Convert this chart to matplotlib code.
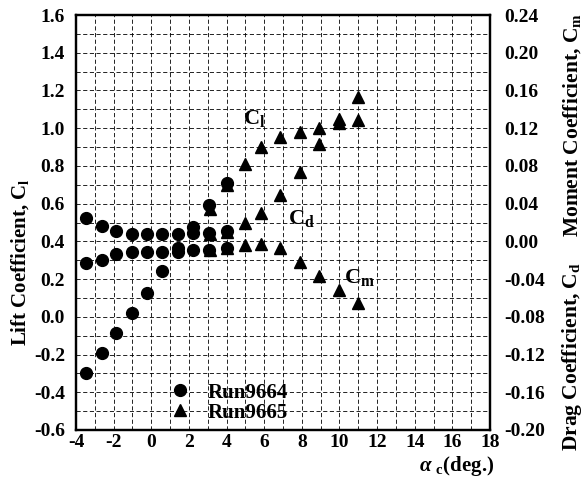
import matplotlib
matplotlib.use("Agg")
import matplotlib.pyplot as plt
import numpy as np

plt.rcParams['font.family'] = ['Liberation Serif', 'DejaVu Serif']
plt.rcParams['font.weight'] = 'bold'
plt.rcParams['mathtext.fontset'] = 'custom'
plt.rcParams['mathtext.rm'] = 'Liberation Serif:bold'
plt.rcParams['mathtext.it'] = 'Liberation Serif:italic:bold'
plt.rcParams['mathtext.bf'] = 'Liberation Serif:bold'

# Run9664 (circles)
alpha_9664 = [-3.45, -2.6, -1.85, -1.05, -0.25, 0.55, 1.4, 2.2, 3.05, 4.0]
cl_9664 = [-0.297, -0.19, -0.085, 0.018, 0.128, 0.244, 0.365, 0.475, 0.593, 0.708]
cd_9664 = [0.0248, 0.0162, 0.0112, 0.0078, 0.0074, 0.0078, 0.0078, 0.009, 0.009, 0.011]
cm_9664 = [-0.0234, -0.0198, -0.0134, -0.011, -0.011, -0.011, -0.011, -0.0092, -0.0092, -0.0074]

# Run9665 (triangles)
alpha_9665 = [3.1, 4.0, 5.0, 5.85, 6.85, 7.9, 8.9, 10.0, 11.0]
cl_9665 = [0.57, 0.70, 0.81, 0.90, 0.955, 0.98, 1.00, 1.03, 1.045]
cd_9665 = [0.008, 0.010, 0.019, 0.030, 0.049, 0.074, 0.103, 0.130, 0.153]
cm_9665 = [-0.0092, -0.007, -0.004, -0.003, -0.0074, -0.0216, -0.0364, -0.0516, -0.065]

xticks = np.arange(-4, 19, 2)
yticks_left = np.arange(-0.6, 1.61, 0.2)
yticks_right = np.arange(-0.20, 0.241, 0.04)

W, H = 586, 479
fig = plt.figure(figsize=(W / 100, H / 100), dpi=100)
ax = fig.add_axes([76 / W, 1 - 430 / H, 414 / W, 415 / H])
ax2 = ax.twinx()

ax.set_xlim(-4, 18)
ax.set_ylim(-0.6, 1.6)
ax2.set_ylim(-0.20, 0.24)

ax.set_xticks(xticks)
ax.set_xticklabels([f"{v:d}" for v in xticks])
ax.set_yticks(yticks_left)
ax.set_yticklabels([f"{v:.1f}" for v in yticks_left])
ax2.set_yticks(yticks_right)
ax2.set_yticklabels([f"{v:.2f}" for v in yticks_right])

ax.set_xticks(np.arange(-4, 18.5, 1), minor=True)
ax.set_yticks(np.arange(-0.6, 1.65, 0.1), minor=True)
ax.grid(which='both', color='black', linestyle=(0, (5, 3)), linewidth=0.6)
ax.tick_params(which='both', length=0, labelsize=14)
ax.tick_params(axis='y', pad=8)
ax.tick_params(axis='x', pad=3)
ax2.tick_params(which='both', length=0, labelsize=14, pad=10)
for a in (ax, ax2):
    for s in a.spines.values():
        s.set_linewidth(1.6)

ms_c = 8.5
ms_t = 8.5
h1, = ax.plot(alpha_9664, cl_9664, 'o', color='black', ms=ms_c, ls='none', label='Run9664')
ax2.plot(alpha_9664, cd_9664, 'o', color='black', ms=ms_c, ls='none')
ax2.plot(alpha_9664, cm_9664, 'o', color='black', ms=ms_c, ls='none')
h2, = ax.plot(alpha_9665, cl_9665, '^', color='black', ms=ms_t, ls='none', label='Run9665')
ax2.plot(alpha_9665, cd_9665, '^', color='black', ms=ms_t, ls='none')
ax2.plot(alpha_9665, cm_9665, '^', color='black', ms=ms_t, ls='none')

ax.text(5.46, 1.05, r"C$_\mathrm{l}$", fontsize=16, ha='center', va='center')
ax.text(7.96, 0.52, r"C$_\mathrm{d}$", fontsize=16, ha='center', va='center')
ax.text(11.04, 0.21, r"C$_\mathrm{m}$", fontsize=16, ha='center', va='center')

leg = ax2.legend(handles=[h1, h2], loc='center left', bbox_to_anchor=(0.226, 0.066),
                 frameon=False, fontsize=15, handlelength=1.0, handletextpad=0.85,
                 labelspacing=0.0, borderpad=0, borderaxespad=0)

fig.text(20 / W, 1 - 262 / H, r"Lift Coefficient, C$_\mathrm{l}$", rotation=90,
         ha='center', va='center', fontsize=15)
fig.text(572 / W, 1 - 125 / H, r"Moment Coefficient, C$_\mathrm{m}$", rotation=90,
         ha='center', va='center', fontsize=15.5)
fig.text(572 / W, 1 - 357 / H, r"Drag Coefficient, C$_\mathrm{d}$", rotation=90,
         ha='center', va='center', fontsize=15.5)
fig.text(457 / W, 1 - 466 / H, r"$\alpha$ $_\mathrm{c}$(deg.)", ha='center', va='center', fontsize=15)

fig.savefig("out.png", dpi=100)
